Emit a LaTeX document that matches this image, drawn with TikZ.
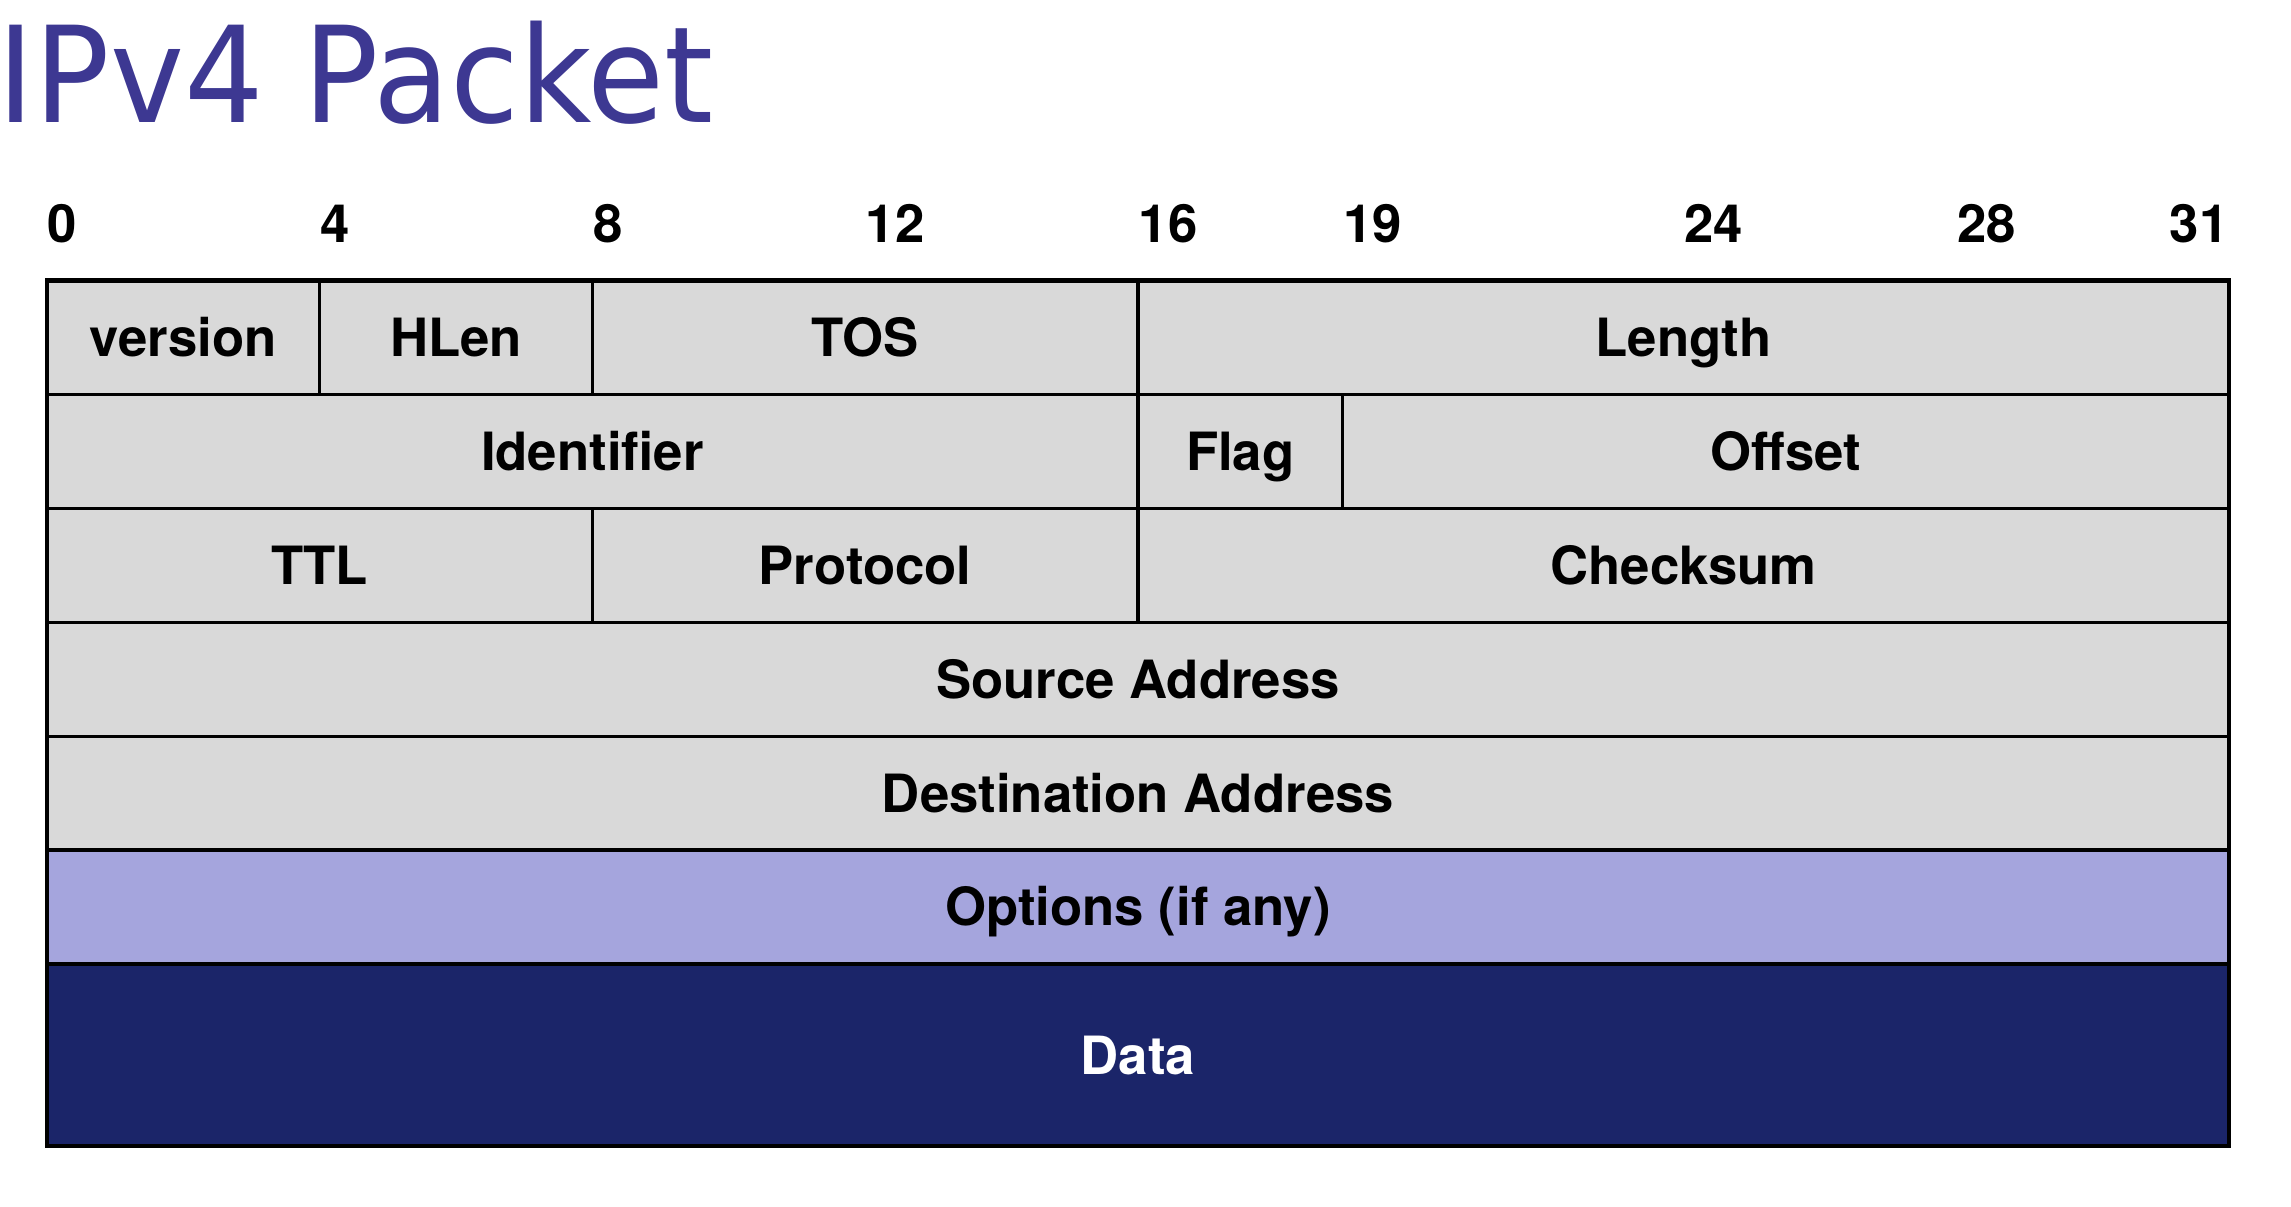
\documentclass[tikz,border=0pt]{standalone}
\usepackage{fontspec}
\setmainfont{TeX Gyre Heros}
\newfontfamily\titlefont[FakeStretch=0.937]{DejaVu Sans}

\definecolor{cellgray}{HTML}{D9D9D9}
\definecolor{optblue}{HTML}{A5A5DD}
\definecolor{datablue}{HTML}{1B2569}
\definecolor{titleblue}{HTML}{3D3892}

\begin{document}
\begin{tikzpicture}[x=0.682cm,y=-1.139cm,
    field/.style={draw=black,line width=0.9pt,fill=cellgray},
    lbl/.style={font=\fontsize{15}{18}\selectfont\bfseries,inner sep=0pt,
                text height=10.8pt,text depth=0pt},
    bitnum/.style={font=\fontsize{15}{18}\selectfont\bfseries,inner sep=0pt}]
        \useasboundingbox (-0.686,-2.463) rectangle (32.906,8.134);

        % Title
        \node[anchor=base west,inner sep=0pt,text=titleblue,
              font=\titlefont\fontsize{38}{40}\selectfont] (title) at (-0.726,-1.383) {IPv4 Packet};

        % Bit positions
        \foreach \n in {0,4,8,12,16,19,24,28}
            \node[bitnum,anchor=base west] (bit\n) at (\n,-0.338) {\n};
        \node[bitnum,anchor=base east] (bit31) at (32,-0.338) {31};

        % First word
        \draw[field] (0,0) rectangle (4,1);
        \draw[field] (4,0) rectangle (8,1);
        \draw[field] (8,0) rectangle (16,1);
        \draw[field] (16,0) rectangle (32,1);
        \node[lbl] (version) at (2,0.5) {version};
        \node[lbl] (hlen) at (6,0.5) {HLen};
        \node[lbl] (tos) at (12,0.5) {TOS};
        \node[lbl] (length) at (24,0.5) {Length};

        % Second word
        \draw[field] (0,1) rectangle (16,2);
        \draw[field] (16,1) rectangle (19,2);
        \draw[field] (19,1) rectangle (32,2);
        \node[lbl] (ident) at (8,1.5) {Identifier};
        \node[lbl] (flag) at (17.5,1.5) {Flag};
        \node[lbl] (offset) at (25.5,1.5) {Offset};

        % Third word
        \draw[field] (0,2) rectangle (8,3);
        \draw[field] (8,2) rectangle (16,3);
        \draw[field] (16,2) rectangle (32,3);
        \node[lbl] (ttl) at (4,2.5) {TTL};
        \node[lbl] (proto) at (12,2.5) {Protocol};
        \node[lbl] (csum) at (24,2.5) {Checksum};

        % Addresses
        \draw[field] (0,3) rectangle (32,4);
        \draw[field] (0,4) rectangle (32,5);
        \node[lbl] (src) at (16,3.5) {Source Address};
        \node[lbl] (dst) at (16,4.5) {Destination Address};

        % Options and data
        \draw[field,fill=optblue,line width=1.1pt] (0,5) rectangle (32,6);
        \node[lbl] (opts) at (16,5.5) {Options (if any)};
        \draw[field,fill=datablue,line width=1.1pt] (0,6) rectangle (32,7.6);
        \node[lbl,text=white] (data) at (16,6.8) {Data};

        % Outer frame
        \draw[line width=1.2pt] (0,0) rectangle (32,7.6);
\end{tikzpicture}
\end{document}
